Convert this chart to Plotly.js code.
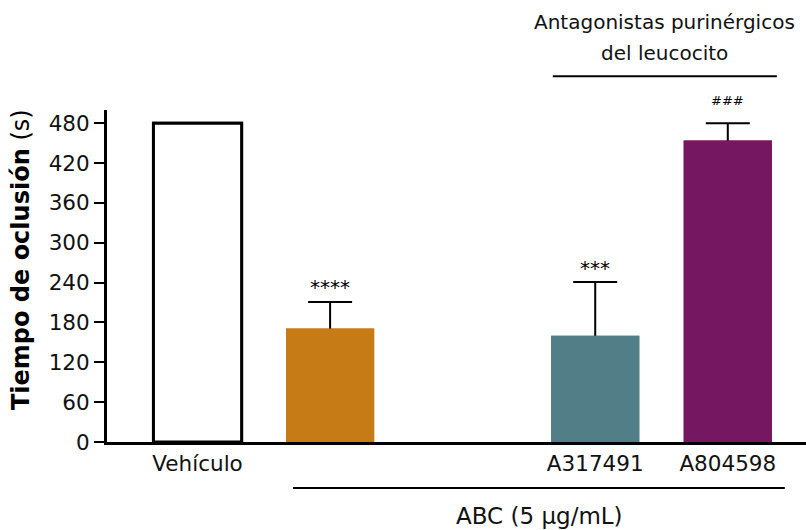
<!DOCTYPE html>
<html>
<head>
<meta charset="utf-8">
<script src="https://cdn.plot.ly/plotly-3.0.1.min.js"></script>
<style>html,body{margin:0;padding:0;background:#fff;}#chart{width:806px;height:530px;}</style>
</head>
<body>
<div id="chart"></div>
<script>
const tickLabels = ['Vehículo', '', '', 'A317491', 'A804598'];
const positions = [0, 1, 2, 3, 4];
const meanValues = [480, 171, null, 160, 454];
const errorUp = [null, 40, null, 81, 26];
const barColors = ['#ffffff', '#C77B17', '#ffffff', '#527F87', '#761761'];
const outlineWidths = [3, 0, 0, 0, 0];
const sigLabels = ['', '****', '', '***', '###'];
const sigShift = [0, 15, 0, 14, 23];
const sigSizes = [20, 20, 20, 20, 13];
const yTicks = [0, 60, 120, 180, 240, 300, 360, 420, 480];

const FONT = '"DejaVu Sans", Verdana, sans-serif';
const CAP_HIDE = 4; // lower cap tucked inside the bar, hidden by the overlay bar

const barBase = {
  type: 'bar',
  x: positions,
  y: meanValues,
  width: 0.665,
  marker: { color: barColors, line: { color: '#000', width: outlineWidths } },
  hoverinfo: 'none'
};
const errTrace = Object.assign({}, barBase, {
  error_y: { type: 'data', symmetric: false,
             array: errorUp,
             arrayminus: errorUp.map(e => e == null ? null : CAP_HIDE),
             color: '#000', thickness: 2, width: 22 }
});
const coverTrace = Object.assign({}, barBase);

const annotations = [];
positions.forEach((p, i) => {
  if (sigLabels[i]) {
    annotations.push({ x: p, y: meanValues[i] + errorUp[i], xref: 'x', yref: 'y', text: sigLabels[i],
      yanchor: 'middle', yshift: sigShift[i],
      showarrow: false, font: { family: FONT, size: sigSizes[i], color: '#000' } });
  }
});
annotations.push({ x: 2.58, y: -0.222, xref: 'x', yref: 'paper', text: 'ABC (5 μg/mL)',
  xanchor: 'center', yanchor: 'middle',
  showarrow: false, font: { family: FONT, size: 23, color: '#111' } });
annotations.push({ x: 3.52, y: 1.265, xref: 'x', yref: 'paper', text: 'Antagonistas purinérgicos',
  xanchor: 'center', yanchor: 'middle',
  showarrow: false, font: { family: FONT, size: 20, color: '#111' } });
annotations.push({ x: 3.52, y: 1.172, xref: 'x', yref: 'paper', text: 'del leucocito',
  xanchor: 'center', yanchor: 'middle',
  showarrow: false, font: { family: FONT, size: 20, color: '#111' } });
annotations.push({ x: -0.123, y: 0.548, xref: 'paper', yref: 'paper', text: '<b>Tiempo de oclusión</b> (s)',
  textangle: -90, xanchor: 'center', yanchor: 'middle',
  showarrow: false, font: { family: FONT, size: 24, color: '#000' } });

const shapes = [
  { type: 'line', xref: 'x', yref: 'paper', x0: 0.72, x1: 4.43, y0: -0.1386, y1: -0.1386, line: { color: '#000', width: 2 } },
  { type: 'line', xref: 'x', yref: 'paper', x0: 2.68, x1: 4.37, y0: 1.102, y1: 1.102, line: { color: '#000', width: 2 } }
];

const layout = {
  width: 806, height: 530,
  margin: { l: 107, r: 0, t: 110, b: 88 },
  paper_bgcolor: '#fff', plot_bgcolor: '#fff',
  showlegend: false,
  barmode: 'overlay',
  font: { family: FONT, color: '#111' },
  xaxis: {
    range: [-0.683, 4.59], tickmode: 'array', tickvals: positions, ticktext: tickLabels,
    showline: true, linecolor: '#000', linewidth: 3, ticks: '', showgrid: false, zeroline: false,
    tickfont: { family: FONT, size: 21.5, color: '#111' }, fixedrange: true
  },
  yaxis: {
    range: [0, 500], tickmode: 'array', tickvals: yTicks, ticktext: yTicks.map(String),
    showline: true, linecolor: '#000', linewidth: 3, ticks: 'outside', ticklen: 10, tickwidth: 2, tickcolor: '#000',
    showgrid: false, zeroline: false,
    tickfont: { family: FONT, size: 21.5, color: '#111' }
  },
  annotations: annotations,
  shapes: shapes
};

Plotly.newPlot('chart', [errTrace, coverTrace], layout, { displayModeBar: false, staticPlot: true });
</script>
</body>
</html>
